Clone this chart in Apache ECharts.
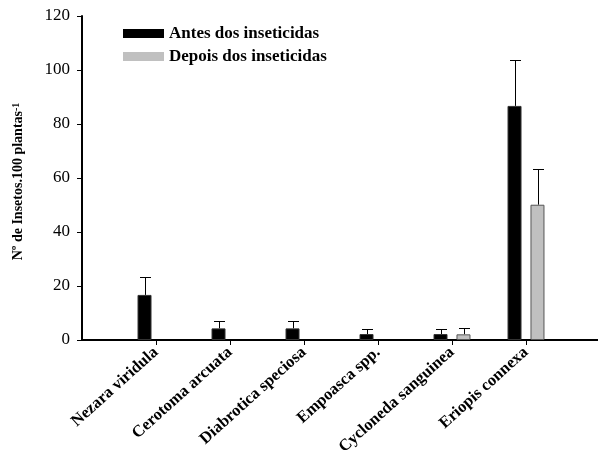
<!DOCTYPE html>
<html>
<head>
<meta charset="utf-8">
<script src="https://cdn.jsdelivr.net/npm/echarts@6/dist/echarts.min.js"></script>
<style>html,body{margin:0;padding:0;background:#fff;}#c{width:598px;height:450px;}</style>
</head>
<body>
<div id="c"></div>
<script>
var categories = ['Nezara viridula', 'Cerotoma arcuata', 'Diabrotica speciosa', 'Empoasca spp.', 'Cycloneda sanguinea', 'Eriopis connexa'];
var antes = [16.7, 4.3, 4.3, 2.2, 2.2, 86.7];
var antesErr = [6.7, 2.8, 2.8, 2.0, 2.0, 16.9];
var depois = [0, 0, 0, 0, 2.1, 50.1];
var depoisErr = [0, 0, 0, 0, 2.2, 13.2];
var yTicks = [0, 20, 40, 60, 80, 100, 120];

var FONT = 'Liberation Serif';
// padded category list: empty slot on each side
var cats = [''].concat(categories).concat(['']);
function pad(arr) { return [null].concat(arr.map(function (v) { return v === 0 ? '-' : v; })).concat([null]); }

function errData(vals, errs) {
  var out = [];
  vals.forEach(function (v, i) { if (v > 0) out.push([i + 1, v, v + errs[i]]); });
  return out;
}

function errSeries(vals, errs, offset) {
  return {
    type: 'custom',
    silent: true,
    z: 1,
    data: errData(vals, errs),
    encode: { x: 0, y: [1, 2] },
    renderItem: function (params, api) {
      var base = api.coord([api.value(0), api.value(1)]);
      var top = api.coord([api.value(0), api.value(2)]);
      var x = Math.round(base[0] + offset) + 0.5;
      var y0 = base[1], y1 = Math.round(top[1]) + 0.5;
      var st = { stroke: '#000', lineWidth: 1 };
      return {
        type: 'group',
        children: [
          { type: 'line', shape: { x1: x, y1: y0, x2: x, y2: y1 }, style: st },
          { type: 'line', shape: { x1: x - 5.5, y1: y1, x2: x + 5.5, y2: y1 }, style: st }
        ]
      };
    }
  };
}

var chart = echarts.init(document.getElementById('c'), null, { renderer: 'canvas' });
chart.setOption({
  animation: false,
  backgroundColor: '#fff',
  textStyle: { fontFamily: FONT, color: '#000' },
  grid: { left: 82, right: -2, top: 16, bottom: 110, containLabel: false, outerBoundsMode: 'none' },
  legend: {
    orient: 'vertical',
    left: 118, top: 20,
    itemWidth: 41, itemHeight: 9, itemGap: 6,
    icon: 'rect',
    textStyle: { fontFamily: FONT, fontWeight: 'bold', fontSize: 17, color: '#000' },
    data: [
      { name: 'Antes dos inseticidas', itemStyle: { color: '#000', borderWidth: 0 } },
      { name: 'Depois dos inseticidas', itemStyle: { color: '#c0c0c0', borderWidth: 0 } }
    ]
  },
  xAxis: {
    type: 'category',
    data: cats,
    boundaryGap: false,
    axisLine: { lineStyle: { color: '#000', width: 2 } },
    axisTick: {
      show: true, length: 5, inside: false,
      interval: function (i) { return i > 0 && i < cats.length - 1; },
      lineStyle: { color: '#000', width: 1 }
    },
    axisLabel: {
      interval: 0, rotate: 42, margin: 10,
      fontFamily: FONT, fontWeight: 'bold', fontSize: 16.5, color: '#000'
    },
    splitLine: { show: false }
  },
  yAxis: {
    type: 'value',
    min: yTicks[0], max: yTicks[yTicks.length - 1], interval: 20,
    name: 'Nº de Insetos.100 plantas{sup|-1}',
    nameLocation: 'middle',
    nameGap: 57,
    nameRotate: 90,
    nameTextStyle: {
      fontFamily: FONT, fontWeight: 'bold', fontSize: 14, color: '#000',
      padding: [0, 7, 0, 0],
      rich: { sup: { fontFamily: FONT, fontWeight: 'bold', fontSize: 10, verticalAlign: 'top', color: '#000' } }
    },
    axisLine: { show: true, lineStyle: { color: '#000', width: 2 } },
    axisTick: { show: true, length: 5, inside: false, lineStyle: { color: '#000', width: 1 } },
    axisLabel: { fontFamily: FONT, fontSize: 17, color: '#000', margin: 12 },
    splitLine: { show: false }
  },
  series: [
    {
      name: 'Antes dos inseticidas', type: 'bar', data: pad(antes),
      barWidth: 14, barGap: '64%', z: 2,
      itemStyle: { color: '#000', borderColor: '#333', borderWidth: 1 }
    },
    {
      name: 'Depois dos inseticidas', type: 'bar', data: pad(depois),
      barWidth: 14, barGap: '64%', z: 2,
      itemStyle: { color: '#c0c0c0', borderColor: '#555', borderWidth: 1 }
    },
    errSeries(antes, antesErr, -11.5),
    errSeries(depois, depoisErr, 11.5)
  ]
});
</script>
</body>
</html>
